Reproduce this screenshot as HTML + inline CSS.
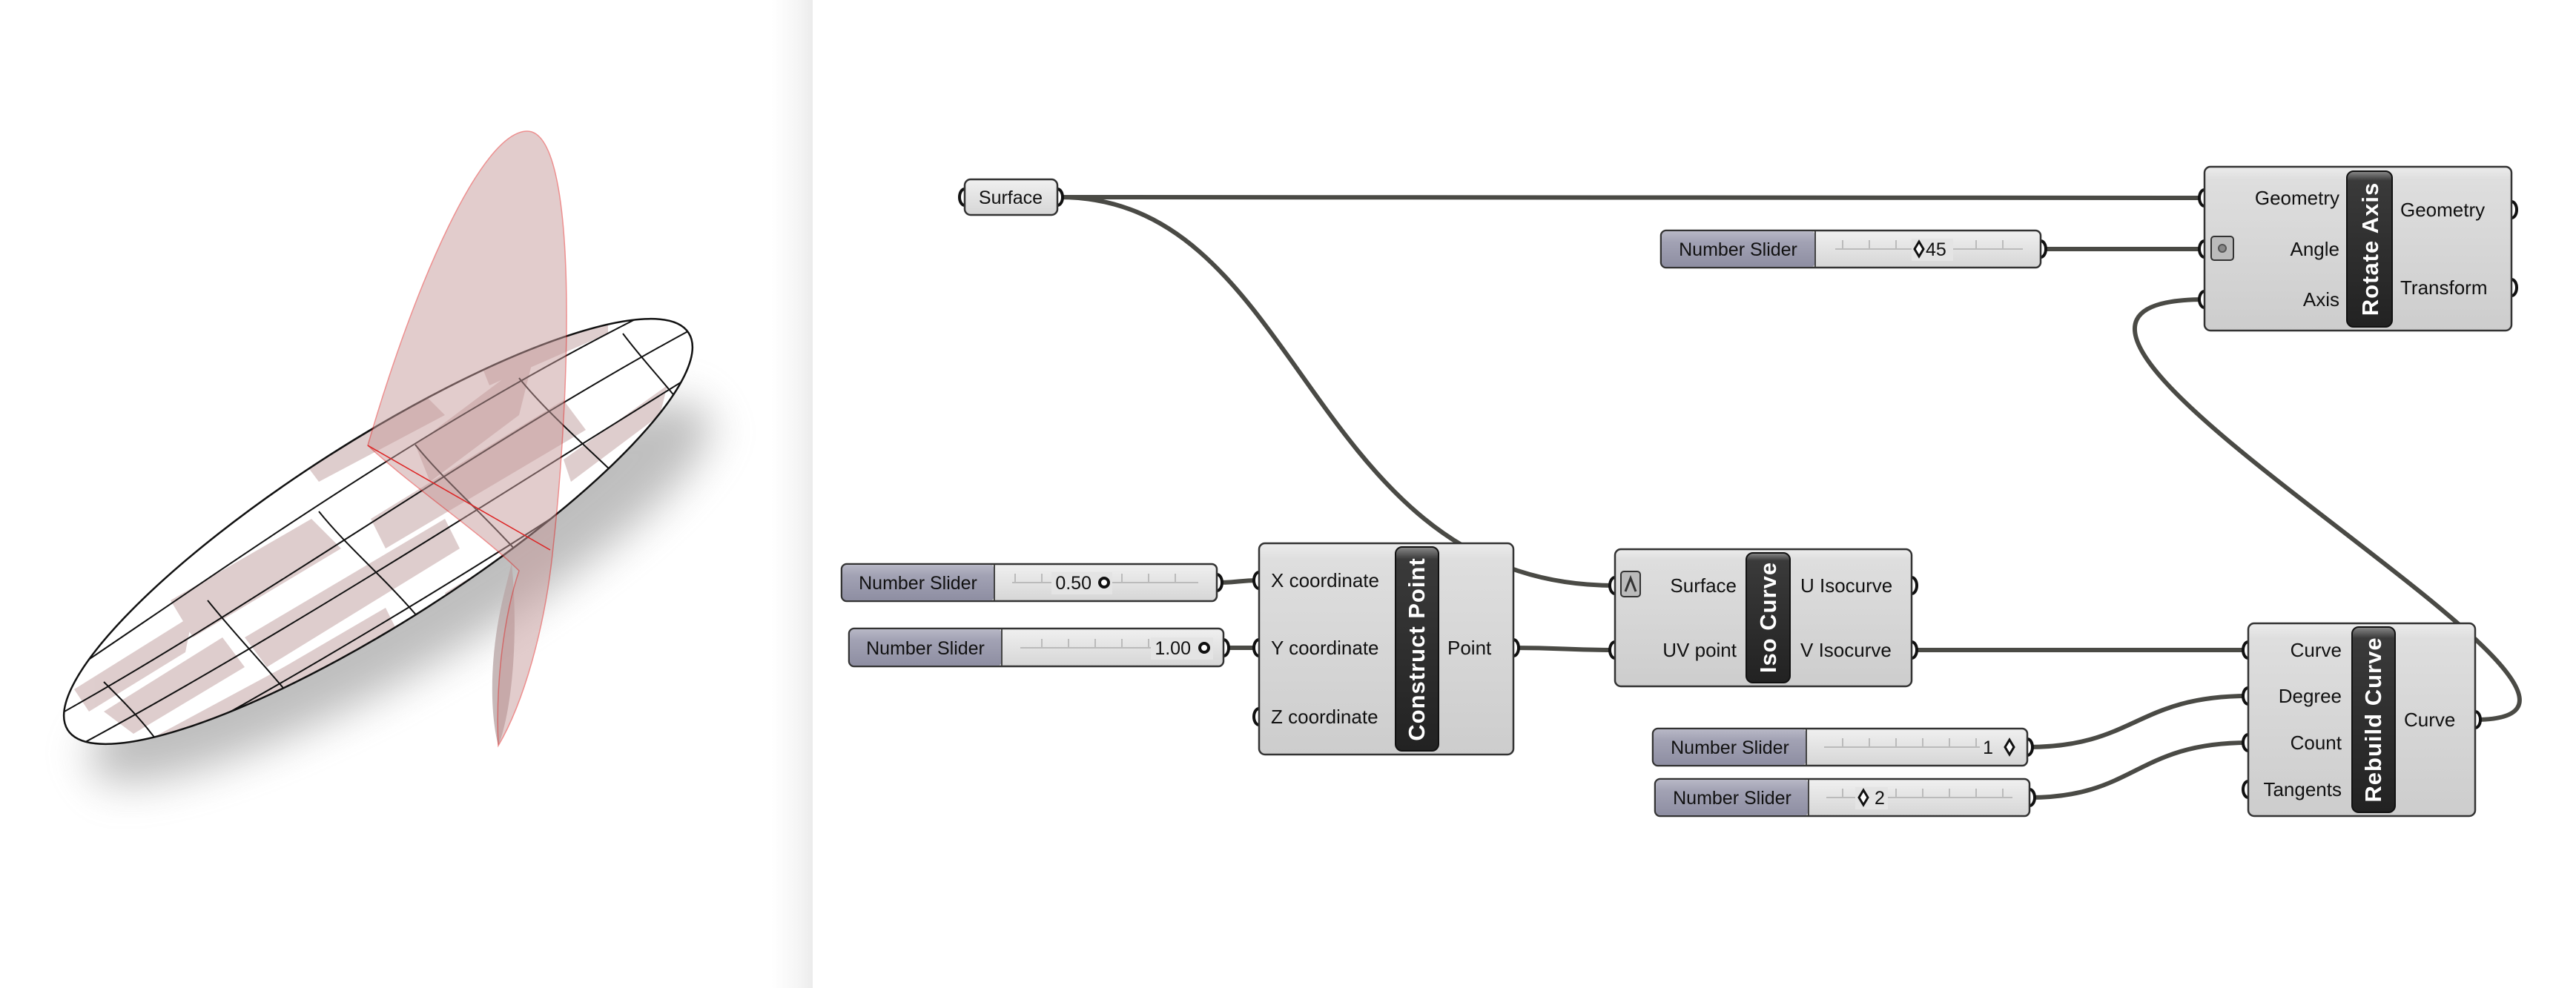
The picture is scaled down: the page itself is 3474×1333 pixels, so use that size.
<!DOCTYPE html>
<html><head><meta charset="utf-8"><style>
html,body{margin:0;padding:0;background:#fff;}
svg{display:block;}
text{font-family:"Liberation Sans",sans-serif;}
</style></head><body>
<svg width="3474" height="1333" viewBox="0 0 3474 1333" xmlns="http://www.w3.org/2000/svg">
<defs>
<linearGradient id="edge" x1="0" x2="1" y1="0" y2="0">
<stop offset="0" stop-color="#ffffff"/><stop offset="0.6" stop-color="#f6f6f6"/><stop offset="1" stop-color="#ececec"/></linearGradient>
<linearGradient id="cg" x1="0" x2="0" y1="0" y2="1">
<stop offset="0" stop-color="#ececec"/><stop offset="0.08" stop-color="#dedede"/><stop offset="1" stop-color="#cdcdcd"/></linearGradient>
<linearGradient id="tg" x1="0" x2="0" y1="0" y2="1">
<stop offset="0" stop-color="#8a8a8a"/><stop offset="0.06" stop-color="#3a3a3a"/><stop offset="1" stop-color="#222"/></linearGradient>
<linearGradient id="sl" x1="0" x2="0" y1="0" y2="1">
<stop offset="0" stop-color="#b8b8c6"/><stop offset="0.3" stop-color="#a2a2b4"/><stop offset="1" stop-color="#8e8ea2"/></linearGradient>
<linearGradient id="sr" x1="0" x2="0" y1="0" y2="1">
<stop offset="0" stop-color="#f0f0f0"/><stop offset="1" stop-color="#d6d6d6"/></linearGradient>
<filter id="blur" x="-50%" y="-50%" width="200%" height="200%"><feGaussianBlur stdDeviation="28"/></filter>
<clipPath id="ell"><ellipse cx="510" cy="717" rx="497" ry="122" transform="rotate(-32.6 510 717)"/></clipPath>
<pattern id="ticks" width="36" height="20" patternUnits="userSpaceOnUse"><line x1="1" y1="0" x2="1" y2="20" stroke="#bbb" stroke-width="2"/></pattern>
</defs>

<rect x="0" y="0" width="1096" height="1333" fill="#ffffff"/>
<rect x="1040" y="0" width="56" height="1333" fill="url(#edge)"/>

<ellipse cx="540" cy="800" rx="480" ry="105" transform="rotate(-30 540 800)" fill="#8a8a8a" opacity="0.55" filter="url(#blur)"/>
<path d="M690 760 C700 860 690 960 672 1006 C660 960 660 880 680 800 Z" fill="#b9a6a6" opacity="0.8"/>

<ellipse cx="510" cy="717" rx="497" ry="122" transform="rotate(-32.6 510 717)" fill="#ffffff"/>
<g clip-path="url(#ell)" fill="#d9c5c5" opacity="0.85">
<path d="M140 960 L300 860 L330 900 L180 990 Z"/>
<path d="M230 810 L420 700 L460 740 L260 860 Z"/>
<path d="M330 860 L600 700 L620 740 L360 900 Z"/>
<path d="M400 610 L560 520 L600 560 L430 650 Z"/>
<path d="M500 700 L760 540 L790 580 L520 740 Z"/>
<path d="M560 600 L720 480 L700 560 L580 650 Z"/>
<path d="M640 470 L820 400 L820 450 L660 520 Z"/>
<path d="M600 800 L860 640 L880 680 L620 840 Z"/>
<path d="M100 930 L260 830 L250 880 L120 960 Z"/>
<path d="M280 960 L520 820 L540 860 L300 990 Z"/>
<path d="M760 620 L900 520 L890 560 L770 650 Z"/>
<path d="M160 1020 L420 880 L440 920 L180 1050 Z"/>
</g>
<g clip-path="url(#ell)" stroke="#111" stroke-width="2" fill="none">
<path d="M60 930 C300 770 600 550 940 390"/>
<path d="M60 975 C350 815 650 595 950 435"/>
<path d="M80 1020 C380 860 700 650 960 490"/>
<path d="M120 1065 C420 905 750 705 970 545"/>
<path d="M140 920 C180 960 220 1000 240 1050"/>
<path d="M280 810 C320 860 360 900 400 950"/>
<path d="M430 690 C470 740 520 780 570 840"/>
<path d="M560 600 C600 650 660 700 720 770"/>
<path d="M700 510 C740 560 800 610 860 670"/>
<path d="M840 450 C870 490 900 520 930 560"/>
</g>
<ellipse cx="510" cy="717" rx="497" ry="122" transform="rotate(-32.6 510 717)" fill="none" stroke="#111" stroke-width="2.5"/>

<path d="M496 601 C560 380 650 177 711 177 C780 177 770 520 746 738 C735 850 705 950 672 1006 C668 920 680 830 700 770 C650 720 560 660 496 601 Z" fill="#c79b9b" opacity="0.5" stroke="#d22" stroke-width="1.5"/>
<path d="M496 601 L742 742" stroke="#d22" stroke-width="1.5"/>

<g stroke="#4a4a45" stroke-width="6" fill="none" stroke-linecap="round">
<path d="M1429 266 L2973 267"/>
<path d="M1429 266 C1760 266 1760 790 2178 790"/>
<path d="M2752 336 L2973 336"/>
<path d="M3338 971 C3660 971 2560 404 2973 404"/>
<path d="M1641 786 C1670 786 1670 783 1698 783"/>
<path d="M1650 874 L1698 874"/>
<path d="M2041 874 C2110 874 2110 877 2178 877"/>
<path d="M2578 877 L3032 877"/>
<path d="M2734 1008 C2880 1008 2880 939 3032 939"/>
<path d="M2737 1076 C2880 1076 2880 1002 3032 1002"/>
</g>

<g fill="#fff" stroke="#111" stroke-width="4">
<ellipse cx="1301" cy="266" rx="7" ry="11"/><ellipse cx="1426" cy="266" rx="7" ry="11"/>
<ellipse cx="2973" cy="267" rx="7" ry="11"/><ellipse cx="2973" cy="336" rx="7" ry="11"/><ellipse cx="2973" cy="404" rx="7" ry="11"/>
<ellipse cx="3387" cy="283" rx="7" ry="11"/><ellipse cx="3387" cy="388" rx="7" ry="11"/>
<ellipse cx="2752" cy="336" rx="7" ry="11"/>
<ellipse cx="1641" cy="786" rx="7" ry="11"/><ellipse cx="1650" cy="874" rx="7" ry="11"/>
<ellipse cx="1698" cy="783" rx="7" ry="11"/><ellipse cx="1698" cy="874" rx="7" ry="11"/><ellipse cx="1698" cy="967" rx="7" ry="11"/>
<ellipse cx="2041" cy="874" rx="7" ry="11"/>
<ellipse cx="2178" cy="790" rx="7" ry="11"/><ellipse cx="2178" cy="877" rx="7" ry="11"/>
<ellipse cx="2578" cy="790" rx="7" ry="11"/><ellipse cx="2578" cy="877" rx="7" ry="11"/>
<ellipse cx="3032" cy="877" rx="7" ry="11"/><ellipse cx="3032" cy="939" rx="7" ry="11"/><ellipse cx="3032" cy="1002" rx="7" ry="11"/><ellipse cx="3032" cy="1065" rx="7" ry="11"/>
<ellipse cx="3338" cy="971" rx="7" ry="11"/>
<ellipse cx="2734" cy="1008" rx="7" ry="11"/><ellipse cx="2737" cy="1076" rx="7" ry="11"/>
</g>

<rect x="1301" y="242" width="125" height="48" rx="8" fill="url(#sr)" stroke="#333" stroke-width="2.5"/>
<text x="1363" y="275" font-size="25" text-anchor="middle" fill="#111">Surface</text>

<rect x="2973" y="225" width="414" height="221" rx="8" fill="url(#cg)" stroke="#333" stroke-width="2.5"/>
<rect x="3165" y="231" width="61" height="210" rx="9" fill="url(#tg)" stroke="#111" stroke-width="2"/>
<text transform="translate(3207 336) rotate(-90)" font-size="31" font-weight="bold" fill="#fff" text-anchor="middle" letter-spacing="1">Rotate Axis</text>
<g font-size="26" fill="#111">
<text x="3155" y="276" text-anchor="end">Geometry</text>
<text x="3155" y="345" text-anchor="end">Angle</text>
<text x="3155" y="413" text-anchor="end">Axis</text>
<text x="3237" y="292">Geometry</text>
<text x="3237" y="397">Transform</text>
</g>
<rect x="2982" y="319" width="30" height="32" rx="4" fill="#bbb" stroke="#333" stroke-width="2"/>
<circle cx="2997" cy="335" r="5" fill="#888" stroke="#555" stroke-width="2"/>

<rect x="1698" y="733" width="343" height="285" rx="8" fill="url(#cg)" stroke="#333" stroke-width="2.5"/>
<rect x="1882" y="738" width="58" height="275" rx="9" fill="url(#tg)" stroke="#111" stroke-width="2"/>
<text transform="translate(1921 876) rotate(-90)" font-size="31" font-weight="bold" fill="#fff" text-anchor="middle" letter-spacing="1">Construct Point</text>
<g font-size="26" fill="#111">
<text x="1714" y="792">X coordinate</text>
<text x="1714" y="883">Y coordinate</text>
<text x="1714" y="976">Z coordinate</text>
<text x="1952" y="883">Point</text>
</g>

<rect x="2178" y="741" width="400" height="185" rx="8" fill="url(#cg)" stroke="#333" stroke-width="2.5"/>
<rect x="2355" y="746" width="59" height="175" rx="9" fill="url(#tg)" stroke="#111" stroke-width="2"/>
<text transform="translate(2395 833) rotate(-90)" font-size="31" font-weight="bold" fill="#fff" text-anchor="middle" letter-spacing="1">Iso Curve</text>
<g font-size="26" fill="#111">
<text x="2342" y="799" text-anchor="end">Surface</text>
<text x="2342" y="886" text-anchor="end">UV point</text>
<text x="2428" y="799">U Isocurve</text>
<text x="2428" y="886">V Isocurve</text>
</g>
<rect x="2186" y="771" width="26" height="34" rx="4" fill="#bbb" stroke="#333" stroke-width="2"/>
<path d="M2192 798 L2199 780 L2206 798" fill="none" stroke="#333" stroke-width="3"/>

<rect x="3032" y="841" width="306" height="260" rx="8" fill="url(#cg)" stroke="#333" stroke-width="2.5"/>
<rect x="3172" y="846" width="58" height="250" rx="9" fill="url(#tg)" stroke="#111" stroke-width="2"/>
<text transform="translate(3211 971) rotate(-90)" font-size="31" font-weight="bold" fill="#fff" text-anchor="middle" letter-spacing="1">Rebuild Curve</text>
<g font-size="26" fill="#111">
<text x="3158" y="886" text-anchor="end">Curve</text>
<text x="3158" y="948" text-anchor="end">Degree</text>
<text x="3158" y="1011" text-anchor="end">Count</text>
<text x="3158" y="1074" text-anchor="end">Tangents</text>
<text x="3242" y="980">Curve</text>
</g>

<g>
<rect x="2240" y="311" width="512" height="50" rx="7" fill="url(#sr)" stroke="#333" stroke-width="2.5"/>
<rect x="2241" y="312" width="207" height="48" rx="6" fill="url(#sl)"/>
<line x1="2448" y1="312" x2="2448" y2="360" stroke="#444" stroke-width="2"/>
<text x="2344" y="345" font-size="25" text-anchor="middle" fill="#111">Number Slider</text>
<rect x="2475" y="324" width="253" height="12" fill="url(#ticks)"/>
<line x1="2475" y1="336" x2="2728" y2="336" stroke="#bbb" stroke-width="2"/>
<rect x="2578" y="322" width="56" height="30" fill="#e4e4e4"/>
<text x="2597" y="345" font-size="25" fill="#111">45</text>
<path d="M2588 326 L2594 336 L2588 346 L2582 336 Z" fill="#fff" stroke="#111" stroke-width="3"/>

<rect x="1135" y="761" width="506" height="50" rx="7" fill="url(#sr)" stroke="#333" stroke-width="2.5"/>
<rect x="1136" y="762" width="205" height="48" rx="6" fill="url(#sl)"/>
<line x1="1341" y1="762" x2="1341" y2="810" stroke="#444" stroke-width="2"/>
<text x="1238" y="795" font-size="25" text-anchor="middle" fill="#111">Number Slider</text>
<rect x="1365" y="774" width="251" height="12" fill="url(#ticks)"/>
<line x1="1365" y1="786" x2="1616" y2="786" stroke="#bbb" stroke-width="2"/>
<rect x="1418" y="772" width="82" height="30" fill="#e4e4e4"/>
<text x="1472" y="795" font-size="25" text-anchor="end" fill="#111">0.50</text>
<circle cx="1489" cy="786" r="6" fill="#fff" stroke="#111" stroke-width="4"/>

<rect x="1145" y="848" width="505" height="51" rx="7" fill="url(#sr)" stroke="#333" stroke-width="2.5"/>
<rect x="1146" y="849" width="205" height="49" rx="6" fill="url(#sl)"/>
<line x1="1351" y1="849" x2="1351" y2="898" stroke="#444" stroke-width="2"/>
<text x="1248" y="883" font-size="25" text-anchor="middle" fill="#111">Number Slider</text>
<rect x="1376" y="862" width="224" height="12" fill="url(#ticks)"/>
<line x1="1376" y1="874" x2="1600" y2="874" stroke="#bbb" stroke-width="2"/>
<rect x="1552" y="860" width="84" height="30" fill="#e4e4e4"/>
<text x="1606" y="883" font-size="25" text-anchor="end" fill="#111">1.00</text>
<circle cx="1624" cy="874" r="6" fill="#fff" stroke="#111" stroke-width="4"/>

<rect x="2229" y="983" width="505" height="50" rx="7" fill="url(#sr)" stroke="#333" stroke-width="2.5"/>
<rect x="2230" y="984" width="206" height="48" rx="6" fill="url(#sl)"/>
<line x1="2436" y1="984" x2="2436" y2="1032" stroke="#444" stroke-width="2"/>
<text x="2333" y="1017" font-size="25" text-anchor="middle" fill="#111">Number Slider</text>
<rect x="2460" y="996" width="210" height="12" fill="url(#ticks)"/>
<line x1="2460" y1="1008" x2="2670" y2="1008" stroke="#bbb" stroke-width="2"/>
<text x="2688" y="1017" font-size="25" text-anchor="end" fill="#111">1</text>
<path d="M2710 998 L2716 1008 L2710 1018 L2704 1008 Z" fill="#fff" stroke="#111" stroke-width="3"/>

<rect x="2232" y="1051" width="505" height="50" rx="7" fill="url(#sr)" stroke="#333" stroke-width="2.5"/>
<rect x="2233" y="1052" width="206" height="48" rx="6" fill="url(#sl)"/>
<line x1="2439" y1="1052" x2="2439" y2="1100" stroke="#444" stroke-width="2"/>
<text x="2336" y="1085" font-size="25" text-anchor="middle" fill="#111">Number Slider</text>
<rect x="2463" y="1064" width="251" height="12" fill="url(#ticks)"/>
<line x1="2463" y1="1076" x2="2714" y2="1076" stroke="#bbb" stroke-width="2"/>
<rect x="2502" y="1062" width="44" height="30" fill="#e4e4e4"/>
<path d="M2513 1066 L2519 1076 L2513 1086 L2507 1076 Z" fill="#fff" stroke="#111" stroke-width="3"/>
<text x="2528" y="1085" font-size="25" fill="#111">2</text>
</g>
</svg>
</body></html>
